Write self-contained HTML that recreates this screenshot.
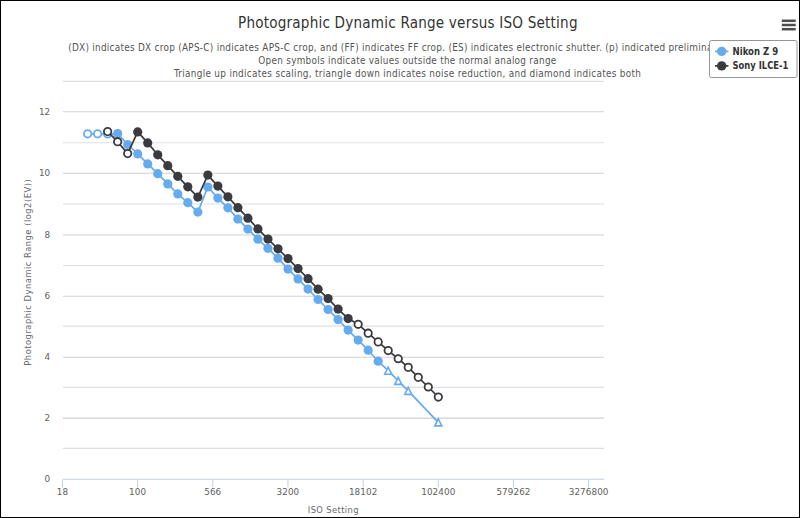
<!DOCTYPE html>
<html lang="en">
<head>
<meta charset="utf-8">
<title>Photographic Dynamic Range versus ISO Setting</title>
<style>
html,body{margin:0;padding:0;background:#fff;}
body{width:800px;height:518px;overflow:hidden;position:relative;}
#frame{position:absolute;left:0;top:0;width:798px;height:516px;border:1px solid #000;box-sizing:content-box;}
svg{position:absolute;left:0;top:0;display:block;}
svg text{font-family:'DejaVu Sans Condensed','Liberation Sans',sans-serif;}
.num text{font-family:'DejaVu Sans','Liberation Sans',sans-serif;font-size:8.8px;letter-spacing:0.08px;fill:#606060;}
</style>
</head>
<body>
<svg width="800" height="518" viewBox="0 0 800 518">
<rect x="0" y="0" width="800" height="518" fill="#fff"/>
<!-- grid -->
<g>
<line x1="62.9" x2="604" y1="448.4" y2="448.4" stroke="#e0e0e0" stroke-width="1.1"/>
<line x1="62.9" x2="604" y1="418.1" y2="418.1" stroke="#d2d2d2" stroke-width="1.1"/>
<line x1="62.9" x2="604" y1="387.4" y2="387.4" stroke="#e0e0e0" stroke-width="1.1"/>
<line x1="62.9" x2="604" y1="357.3" y2="357.3" stroke="#d2d2d2" stroke-width="1.1"/>
<line x1="62.9" x2="604" y1="326.1" y2="326.1" stroke="#e0e0e0" stroke-width="1.1"/>
<line x1="62.9" x2="604" y1="296.3" y2="296.3" stroke="#d2d2d2" stroke-width="1.1"/>
<line x1="62.9" x2="604" y1="265.5" y2="265.5" stroke="#e0e0e0" stroke-width="1.1"/>
<line x1="62.9" x2="604" y1="235.0" y2="235.0" stroke="#d2d2d2" stroke-width="1.1"/>
<line x1="62.9" x2="604" y1="204.0" y2="204.0" stroke="#e0e0e0" stroke-width="1.1"/>
<line x1="62.9" x2="604" y1="173.2" y2="173.2" stroke="#d2d2d2" stroke-width="1.1"/>
<line x1="62.9" x2="604" y1="142.8" y2="142.8" stroke="#e0e0e0" stroke-width="1.1"/>
<line x1="62.9" x2="604" y1="111.8" y2="111.8" stroke="#d2d2d2" stroke-width="1.1"/>
<line x1="62.9" x2="604" y1="81.4" y2="81.4" stroke="#e0e0e0" stroke-width="1.1"/>
</g>
<!-- x axis -->
<line x1="62.9" x2="604" y1="479.3" y2="479.3" stroke="#c0d0e0" stroke-width="1.1"/>
<line x1="62.45" x2="62.45" y1="479.3" y2="487.3" stroke="#c0d0e0" stroke-width="1"/>
<line x1="137.62" x2="137.62" y1="479.3" y2="487.3" stroke="#c0d0e0" stroke-width="1"/>
<line x1="212.79" x2="212.79" y1="479.3" y2="487.3" stroke="#c0d0e0" stroke-width="1"/>
<line x1="287.96" x2="287.96" y1="479.3" y2="487.3" stroke="#c0d0e0" stroke-width="1"/>
<line x1="363.13" x2="363.13" y1="479.3" y2="487.3" stroke="#c0d0e0" stroke-width="1"/>
<line x1="438.3" x2="438.3" y1="479.3" y2="487.3" stroke="#c0d0e0" stroke-width="1"/>
<line x1="513.47" x2="513.47" y1="479.3" y2="487.3" stroke="#c0d0e0" stroke-width="1"/>
<line x1="588.64" x2="588.64" y1="479.3" y2="487.3" stroke="#c0d0e0" stroke-width="1"/>
<!-- title / subtitle -->
<text x="238" y="28.2" font-size="15.1" fill="#333" textLength="339.5" lengthAdjust="spacing">Photographic Dynamic Range versus ISO Setting</text>
<g font-size="9.9" fill="#555">
<text x="68.2" y="51" textLength="653.6" lengthAdjust="spacing">(DX) indicates DX crop (APS-C) indicates APS-C crop, and (FF) indicates FF crop. (ES) indicates electronic shutter. (p) indicated preliminary</text>
<text x="258.3" y="63.8" textLength="298" lengthAdjust="spacing">Open symbols indicate values outside the normal analog range</text>
<text x="174" y="76.6" textLength="467" lengthAdjust="spacing">Triangle up indicates scaling, triangle down indicates noise reduction, and diamond indicates both</text>
</g>
<!-- axis titles -->
<text x="307.8" y="512.7" font-size="9.3" fill="#686868" textLength="50.7" lengthAdjust="spacing">ISO Setting</text>
<text transform="translate(30.9 272.5) rotate(-90)" font-size="9.3" fill="#686868" text-anchor="middle" textLength="186.4" lengthAdjust="spacing">Photographic Dynamic Range (log2(EV))</text>
<!-- axis labels -->
<g class="num">
<text x="62.45" y="495.4" text-anchor="middle">18</text>
<text x="137.62" y="495.4" text-anchor="middle">100</text>
<text x="212.79" y="495.4" text-anchor="middle">566</text>
<text x="287.96" y="495.4" text-anchor="middle">3200</text>
<text x="363.13" y="495.4" text-anchor="middle">18102</text>
<text x="438.3" y="495.4" text-anchor="middle">102400</text>
<text x="513.47" y="495.4" text-anchor="middle">579262</text>
<text x="588.64" y="495.4" text-anchor="middle">3276800</text>
<text x="50.3" y="482.1" text-anchor="end">0</text>
<text x="50.3" y="420.9" text-anchor="end">2</text>
<text x="50.3" y="360.1" text-anchor="end">4</text>
<text x="50.3" y="299.1" text-anchor="end">6</text>
<text x="50.3" y="237.8" text-anchor="end">8</text>
<text x="50.3" y="176.0" text-anchor="end">10</text>
<text x="50.3" y="114.6" text-anchor="end">12</text>
</g>
<!-- series 1: Nikon Z 9 -->
<g>
<path d="M87.6 133.8 L97.62 133.8 L107.64 134.0 L117.66 133.6 L127.68 144.5 L137.7 153.9 L147.72 163.9 L157.74 173.65 L167.76 183.9 L177.78 193.9 L187.8 202.7 L197.82 212.1 L207.84 187.0 L217.86 198.1 L227.88 207.8 L237.9 219.1 L247.92 229.1 L257.94 239.2 L267.96 248.3 L277.98 258.2 L288.0 269.1 L298.02 278.9 L308.04 289.05 L318.06 299.5 L328.08 309.5 L338.1 319.6 L348.12 330.05 L358.14 340.1 L368.16 350.2 L378.18 361.2 L388.2 370.7 L398.22 380.9 L408.24 390.9 L438.3 422.4" fill="none" stroke="#66abee" stroke-width="1.7" stroke-linejoin="round" stroke-linecap="round"/>
<circle cx="87.6" cy="133.8" r="3.7" fill="#fff" stroke="#66abee" stroke-width="1.8"/>
<circle cx="97.62" cy="133.8" r="3.7" fill="#fff" stroke="#66abee" stroke-width="1.8"/>
<circle cx="107.64" cy="134.0" r="3.7" fill="#fff" stroke="#66abee" stroke-width="1.8"/>
<circle cx="117.66" cy="133.6" r="4.6" fill="#66abee"/>
<circle cx="127.68" cy="144.5" r="4.6" fill="#66abee"/>
<circle cx="137.7" cy="153.9" r="4.6" fill="#66abee"/>
<circle cx="147.72" cy="163.9" r="4.6" fill="#66abee"/>
<circle cx="157.74" cy="173.65" r="4.6" fill="#66abee"/>
<circle cx="167.76" cy="183.9" r="4.6" fill="#66abee"/>
<circle cx="177.78" cy="193.9" r="4.6" fill="#66abee"/>
<circle cx="187.8" cy="202.7" r="4.6" fill="#66abee"/>
<circle cx="197.82" cy="212.1" r="4.6" fill="#66abee"/>
<circle cx="207.84" cy="187.0" r="4.6" fill="#66abee"/>
<circle cx="217.86" cy="198.1" r="4.6" fill="#66abee"/>
<circle cx="227.88" cy="207.8" r="4.6" fill="#66abee"/>
<circle cx="237.9" cy="219.1" r="4.6" fill="#66abee"/>
<circle cx="247.92" cy="229.1" r="4.6" fill="#66abee"/>
<circle cx="257.94" cy="239.2" r="4.6" fill="#66abee"/>
<circle cx="267.96" cy="248.3" r="4.6" fill="#66abee"/>
<circle cx="277.98" cy="258.2" r="4.6" fill="#66abee"/>
<circle cx="288.0" cy="269.1" r="4.6" fill="#66abee"/>
<circle cx="298.02" cy="278.9" r="4.6" fill="#66abee"/>
<circle cx="308.04" cy="289.05" r="4.6" fill="#66abee"/>
<circle cx="318.06" cy="299.5" r="4.6" fill="#66abee"/>
<circle cx="328.08" cy="309.5" r="4.6" fill="#66abee"/>
<circle cx="338.1" cy="319.6" r="4.6" fill="#66abee"/>
<circle cx="348.12" cy="330.05" r="4.6" fill="#66abee"/>
<circle cx="358.14" cy="340.1" r="4.6" fill="#66abee"/>
<circle cx="368.16" cy="350.2" r="4.6" fill="#66abee"/>
<circle cx="378.18" cy="361.2" r="4.6" fill="#66abee"/>
<path d="M388.2 367.2 L391.7 374.2 L384.7 374.2 Z" fill="#fff" stroke="#66abee" stroke-width="1.6" stroke-linejoin="miter"/>
<path d="M398.22 377.4 L401.72 384.4 L394.72 384.4 Z" fill="#fff" stroke="#66abee" stroke-width="1.6" stroke-linejoin="miter"/>
<path d="M408.24 387.4 L411.74 394.4 L404.74 394.4 Z" fill="#fff" stroke="#66abee" stroke-width="1.6" stroke-linejoin="miter"/>
<path d="M438.3 418.9 L441.8 425.9 L434.8 425.9 Z" fill="#fff" stroke="#66abee" stroke-width="1.6" stroke-linejoin="miter"/>
</g>
<!-- series 2: Sony ILCE-1 -->
<g>
<path d="M107.64 131.6 L117.66 141.7 L127.68 153.6 L137.7 131.9 L147.72 142.9 L157.74 154.8 L167.76 165.65 L177.78 176.3 L187.8 186.8 L197.82 197.1 L207.84 175.1 L217.86 186.1 L227.88 196.8 L237.9 207.65 L247.92 218.2 L257.94 228.9 L267.96 239.1 L277.98 248.8 L288.0 258.6 L298.02 268.6 L308.04 278.7 L318.06 289.15 L328.08 298.6 L338.1 309.1 L348.12 318.6 L358.14 324.3 L368.16 333.2 L378.18 341.9 L388.2 350.55 L398.22 358.75 L408.24 367.35 L418.26 377.35 L428.28 387.0 L438.3 397.05" fill="none" stroke="#3a3a3f" stroke-width="1.7" stroke-linejoin="round" stroke-linecap="round"/>
<circle cx="107.64" cy="131.6" r="3.7" fill="#fff" stroke="#3a3a3f" stroke-width="1.8"/>
<circle cx="117.66" cy="141.7" r="3.7" fill="#fff" stroke="#3a3a3f" stroke-width="1.8"/>
<circle cx="127.68" cy="153.6" r="3.7" fill="#fff" stroke="#3a3a3f" stroke-width="1.8"/>
<circle cx="137.7" cy="131.9" r="4.6" fill="#3a3a3f"/>
<circle cx="147.72" cy="142.9" r="4.6" fill="#3a3a3f"/>
<circle cx="157.74" cy="154.8" r="4.6" fill="#3a3a3f"/>
<circle cx="167.76" cy="165.65" r="4.6" fill="#3a3a3f"/>
<circle cx="177.78" cy="176.3" r="4.6" fill="#3a3a3f"/>
<circle cx="187.8" cy="186.8" r="4.6" fill="#3a3a3f"/>
<circle cx="197.82" cy="197.1" r="4.6" fill="#3a3a3f"/>
<circle cx="207.84" cy="175.1" r="4.6" fill="#3a3a3f"/>
<circle cx="217.86" cy="186.1" r="4.6" fill="#3a3a3f"/>
<circle cx="227.88" cy="196.8" r="4.6" fill="#3a3a3f"/>
<circle cx="237.9" cy="207.65" r="4.6" fill="#3a3a3f"/>
<circle cx="247.92" cy="218.2" r="4.6" fill="#3a3a3f"/>
<circle cx="257.94" cy="228.9" r="4.6" fill="#3a3a3f"/>
<circle cx="267.96" cy="239.1" r="4.6" fill="#3a3a3f"/>
<circle cx="277.98" cy="248.8" r="4.6" fill="#3a3a3f"/>
<circle cx="288.0" cy="258.6" r="4.6" fill="#3a3a3f"/>
<circle cx="298.02" cy="268.6" r="4.6" fill="#3a3a3f"/>
<circle cx="308.04" cy="278.7" r="4.6" fill="#3a3a3f"/>
<circle cx="318.06" cy="289.15" r="4.6" fill="#3a3a3f"/>
<circle cx="328.08" cy="298.6" r="4.6" fill="#3a3a3f"/>
<circle cx="338.1" cy="309.1" r="4.6" fill="#3a3a3f"/>
<circle cx="348.12" cy="318.6" r="4.6" fill="#3a3a3f"/>
<circle cx="358.14" cy="324.3" r="3.7" fill="#fff" stroke="#3a3a3f" stroke-width="1.8"/>
<circle cx="368.16" cy="333.2" r="3.7" fill="#fff" stroke="#3a3a3f" stroke-width="1.8"/>
<circle cx="378.18" cy="341.9" r="3.7" fill="#fff" stroke="#3a3a3f" stroke-width="1.8"/>
<circle cx="388.2" cy="350.55" r="3.7" fill="#fff" stroke="#3a3a3f" stroke-width="1.8"/>
<circle cx="398.22" cy="358.75" r="3.7" fill="#fff" stroke="#3a3a3f" stroke-width="1.8"/>
<circle cx="408.24" cy="367.35" r="3.7" fill="#fff" stroke="#3a3a3f" stroke-width="1.8"/>
<circle cx="418.26" cy="377.35" r="3.7" fill="#fff" stroke="#3a3a3f" stroke-width="1.8"/>
<circle cx="428.28" cy="387.0" r="3.7" fill="#fff" stroke="#3a3a3f" stroke-width="1.8"/>
<circle cx="438.3" cy="397.05" r="3.7" fill="#fff" stroke="#3a3a3f" stroke-width="1.8"/>
</g>
<!-- legend -->
<g>
<rect x="709.5" y="40.5" width="87.5" height="37" rx="1.8" ry="1.8" fill="#fff" stroke="#969696" stroke-width="1"/>
<line x1="715" x2="728.4" y1="51.4" y2="51.4" stroke="#66abee" stroke-width="1.7"/>
<circle cx="721.7" cy="51.4" r="4.7" fill="#66abee"/>
<line x1="715" x2="728.4" y1="65.9" y2="65.9" stroke="#3a3a3f" stroke-width="1.7"/>
<circle cx="721.7" cy="65.9" r="4.7" fill="#3a3a3f"/>
<g font-size="9.6" font-weight="bold" fill="#333">
<text x="732.6" y="54.8" textLength="45.6" lengthAdjust="spacingAndGlyphs">Nikon Z 9</text>
<text x="732.6" y="69.4" textLength="55.7" lengthAdjust="spacingAndGlyphs">Sony ILCE-1</text>
</g>
</g>
<!-- export menu button -->
<g stroke="#4d4d4d" stroke-width="2.5" stroke-linecap="butt">
<line x1="781.8" x2="795.7" y1="20.8" y2="20.8"/>
<line x1="781.8" x2="795.7" y1="25" y2="25"/>
<line x1="781.8" x2="795.7" y1="29.2" y2="29.2"/>
</g>
</svg>
<div id="frame"></div>
</body>
</html>
